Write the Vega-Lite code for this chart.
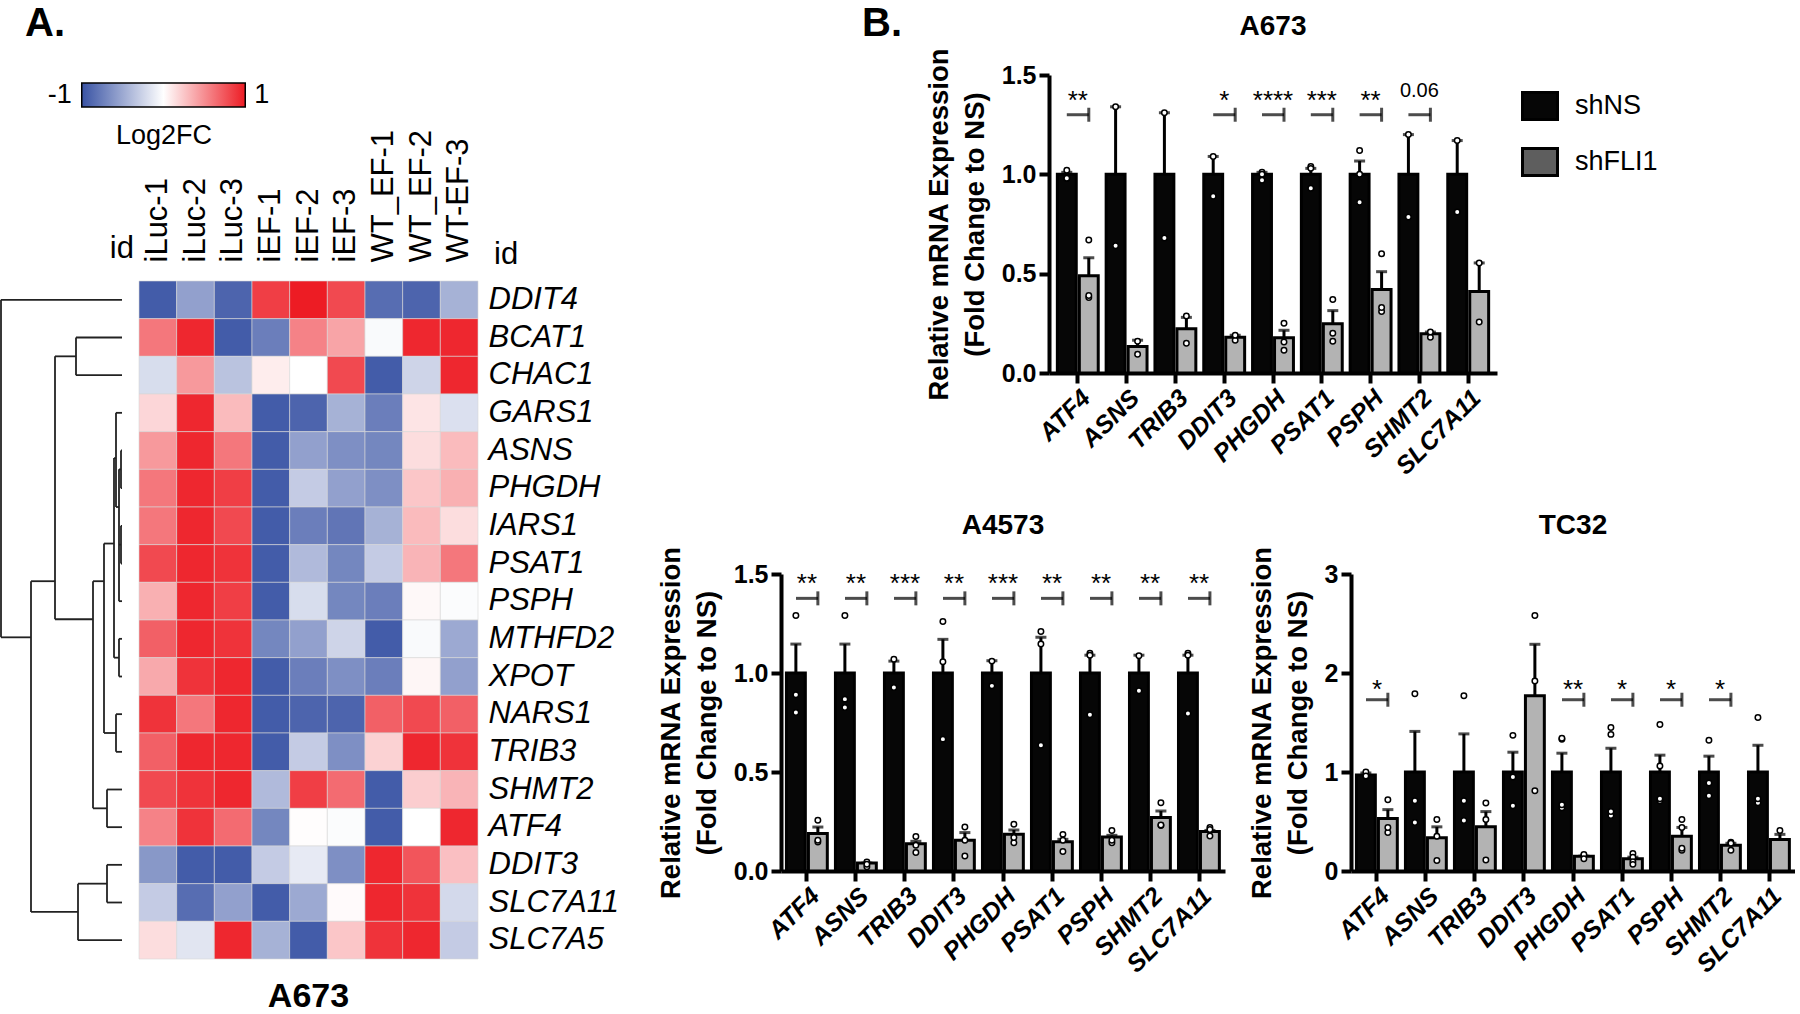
{
"$schema": "https://vega.github.io/schema/vega-lite/v6.json",
"padding": {"top": 4, "left": 0, "right": 0, "bottom": 0},
"background": "white",
"spacing": 38,
"resolve": {"scale": {"color": "independent"}, "legend": {"color": "independent"}},
"config": {
  "font": "Liberation Sans",
  "view": {"stroke": null},
  "axis": {"labelColor": "black", "titleColor": "black", "domainColor": "black", "tickColor": "black", "grid": false, "labelFont": "Liberation Sans", "titleFont": "Liberation Sans"},
  "axisX": {"labelAngle": -45, "labelFontSize": 25, "labelFontWeight": "bold", "labelFontStyle": "italic", "domainWidth": 4, "tickWidth": 4, "tickSize": 10, "labelPadding": 2},
  "axisY": {"labelFontSize": 25, "labelFontWeight": "bold", "domainWidth": 4, "tickWidth": 4, "tickSize": 10, "labelPadding": 3, "titleFontSize": 27.5, "titleFontWeight": "bold", "titleLineHeight": 36, "titlePadding": 12},
  "title": {"color": "black", "fontWeight": "bold", "font": "Liberation Sans"},
  "text": {"font": "Liberation Sans", "color": "black"}
},
"datasets": {
  "heat": [
    {"gene":"DDIT4","iLuc-1":-0.95,"iLuc-2":-0.55,"iLuc-3":-0.9,"iEF-1":0.85,"iEF-2":1.0,"iEF-3":0.8,"WT_EF-1":-0.85,"WT_EF-2":-0.9,"WT-EF-3":-0.45},
    {"gene":"BCAT1","iLuc-1":0.6,"iLuc-2":0.95,"iLuc-3":-0.95,"iEF-1":-0.75,"iEF-2":0.55,"iEF-3":0.4,"WT_EF-1":-0.03,"WT_EF-2":0.95,"WT-EF-3":0.95},
    {"gene":"CHAC1","iLuc-1":-0.2,"iLuc-2":0.45,"iLuc-3":-0.35,"iEF-1":0.08,"iEF-2":0.0,"iEF-3":0.8,"WT_EF-1":-0.95,"WT_EF-2":-0.25,"WT-EF-3":0.95},
    {"gene":"GARS1","iLuc-1":0.18,"iLuc-2":0.95,"iLuc-3":0.3,"iEF-1":-0.95,"iEF-2":-0.9,"iEF-3":-0.45,"WT_EF-1":-0.75,"WT_EF-2":0.12,"WT-EF-3":-0.18},
    {"gene":"ASNS","iLuc-1":0.45,"iLuc-2":0.95,"iLuc-3":0.6,"iEF-1":-0.95,"iEF-2":-0.55,"iEF-3":-0.65,"WT_EF-1":-0.7,"WT_EF-2":0.15,"WT-EF-3":0.3},
    {"gene":"PHGDH","iLuc-1":0.6,"iLuc-2":0.95,"iLuc-3":0.85,"iEF-1":-0.95,"iEF-2":-0.3,"iEF-3":-0.55,"WT_EF-1":-0.65,"WT_EF-2":0.25,"WT-EF-3":0.35},
    {"gene":"IARS1","iLuc-1":0.6,"iLuc-2":0.95,"iLuc-3":0.8,"iEF-1":-0.95,"iEF-2":-0.75,"iEF-3":-0.8,"WT_EF-1":-0.45,"WT_EF-2":0.3,"WT-EF-3":0.15},
    {"gene":"PSAT1","iLuc-1":0.8,"iLuc-2":0.95,"iLuc-3":0.9,"iEF-1":-0.95,"iEF-2":-0.4,"iEF-3":-0.7,"WT_EF-1":-0.3,"WT_EF-2":0.33,"WT-EF-3":0.6},
    {"gene":"PSPH","iLuc-1":0.35,"iLuc-2":0.95,"iLuc-3":0.85,"iEF-1":-0.95,"iEF-2":-0.2,"iEF-3":-0.7,"WT_EF-1":-0.75,"WT_EF-2":0.03,"WT-EF-3":-0.02},
    {"gene":"MTHFD2","iLuc-1":0.7,"iLuc-2":0.95,"iLuc-3":0.9,"iEF-1":-0.7,"iEF-2":-0.55,"iEF-3":-0.25,"WT_EF-1":-0.95,"WT_EF-2":-0.03,"WT-EF-3":-0.5},
    {"gene":"XPOT","iLuc-1":0.38,"iLuc-2":0.9,"iLuc-3":0.95,"iEF-1":-0.95,"iEF-2":-0.75,"iEF-3":-0.65,"WT_EF-1":-0.75,"WT_EF-2":0.04,"WT-EF-3":-0.55},
    {"gene":"NARS1","iLuc-1":0.9,"iLuc-2":0.6,"iLuc-3":0.95,"iEF-1":-0.95,"iEF-2":-0.9,"iEF-3":-0.9,"WT_EF-1":0.7,"WT_EF-2":0.8,"WT-EF-3":0.7},
    {"gene":"TRIB3","iLuc-1":0.7,"iLuc-2":0.95,"iLuc-3":0.95,"iEF-1":-0.95,"iEF-2":-0.3,"iEF-3":-0.65,"WT_EF-1":0.2,"WT_EF-2":0.95,"WT-EF-3":0.9},
    {"gene":"SHMT2","iLuc-1":0.8,"iLuc-2":0.9,"iLuc-3":0.95,"iEF-1":-0.4,"iEF-2":0.85,"iEF-3":0.65,"WT_EF-1":-0.95,"WT_EF-2":0.22,"WT-EF-3":0.33},
    {"gene":"ATF4","iLuc-1":0.55,"iLuc-2":0.9,"iLuc-3":0.65,"iEF-1":-0.7,"iEF-2":0.01,"iEF-3":-0.02,"WT_EF-1":-0.95,"WT_EF-2":0.0,"WT-EF-3":0.95},
    {"gene":"DDIT3","iLuc-1":-0.6,"iLuc-2":-0.95,"iLuc-3":-0.95,"iEF-1":-0.3,"iEF-2":-0.12,"iEF-3":-0.65,"WT_EF-1":0.95,"WT_EF-2":0.75,"WT-EF-3":0.28},
    {"gene":"SLC7A11","iLuc-1":-0.3,"iLuc-2":-0.85,"iLuc-3":-0.55,"iEF-1":-0.95,"iEF-2":-0.5,"iEF-3":0.02,"WT_EF-1":0.95,"WT_EF-2":0.9,"WT-EF-3":-0.22},
    {"gene":"SLC7A5","iLuc-1":0.15,"iLuc-2":-0.15,"iLuc-3":0.95,"iEF-1":-0.45,"iEF-2":-0.95,"iEF-3":0.25,"WT_EF-1":0.9,"WT_EF-2":0.95,"WT-EF-3":-0.3}
  ],
  "dendro": [
    {"h1":121,"h2":121,"r1":0,"r2":8.96},{"h1":121,"h2":0,"r1":0,"r2":0},{"h1":121,"h2":91,"r1":8.96,"r2":8.96},
    {"h1":91,"h2":91,"r1":7.47,"r2":16.25},{"h1":91,"h2":67,"r1":7.47,"r2":7.47},{"h1":91,"h2":44,"r1":16.25,"r2":16.25},
    {"h1":67,"h2":67,"r1":1.5,"r2":8.48},{"h1":67,"h2":46,"r1":1.5,"r2":1.5},{"h1":46,"h2":46,"r1":1,"r2":2},{"h1":46,"h2":0,"r1":1,"r2":1},{"h1":46,"h2":0,"r1":2,"r2":2},
    {"h1":67,"h2":29,"r1":8.48,"r2":8.48},{"h1":29,"h2":29,"r1":7.47,"r2":13.5},{"h1":29,"h2":18,"r1":7.47,"r2":7.47},{"h1":29,"h2":15,"r1":13.5,"r2":13.5},
    {"h1":15,"h2":15,"r1":13,"r2":14},{"h1":15,"h2":0,"r1":13,"r2":13},{"h1":15,"h2":0,"r1":14,"r2":14},
    {"h1":18,"h2":18,"r1":6.47,"r2":11.5},{"h1":18,"h2":8,"r1":6.47,"r2":6.47},{"h1":18,"h2":6,"r1":11.5,"r2":11.5},
    {"h1":6,"h2":6,"r1":11,"r2":12},{"h1":6,"h2":0,"r1":11,"r2":11},{"h1":6,"h2":0,"r1":12,"r2":12},
    {"h1":8,"h2":8,"r1":4.2,"r2":9.5},{"h1":8,"h2":3,"r1":9.5,"r2":9.5},{"h1":3,"h2":3,"r1":9,"r2":10},{"h1":3,"h2":0,"r1":9,"r2":9},{"h1":3,"h2":0,"r1":10,"r2":10},
    {"h1":8,"h2":6,"r1":4.2,"r2":4.2},{"h1":6,"h2":6,"r1":3,"r2":5.5},{"h1":6,"h2":0,"r1":3,"r2":3},{"h1":6,"h2":3,"r1":5.5,"r2":5.5},
    {"h1":3,"h2":3,"r1":4.5,"r2":8},{"h1":3,"h2":0,"r1":8,"r2":8},{"h1":3,"h2":1,"r1":4.5,"r2":4.5},{"h1":3,"h2":1,"r1":6.5,"r2":6.5},
    {"h1":1,"h2":1,"r1":4,"r2":5},{"h1":1,"h2":0,"r1":4,"r2":4},{"h1":1,"h2":0,"r1":5,"r2":5},{"h1":1,"h2":1,"r1":6,"r2":7},{"h1":1,"h2":0,"r1":6,"r2":6},{"h1":1,"h2":0,"r1":7,"r2":7},
    {"h1":44,"h2":44,"r1":15.5,"r2":17},{"h1":44,"h2":15,"r1":15.5,"r2":15.5},{"h1":44,"h2":0,"r1":17,"r2":17},
    {"h1":15,"h2":15,"r1":15,"r2":16},{"h1":15,"h2":0,"r1":15,"r2":15},{"h1":15,"h2":0,"r1":16,"r2":16}
  ],
  "bars": [
    {"panel":"A673","gene":"ATF4","group":"shNS","mean":1.0,"err":1.01},{"panel":"A673","gene":"ATF4","group":"shFLI1","mean":0.49,"err":0.58},
    {"panel":"A673","gene":"ASNS","group":"shNS","mean":1.0,"err":1.34},{"panel":"A673","gene":"ASNS","group":"shFLI1","mean":0.134,"err":0.165},
    {"panel":"A673","gene":"TRIB3","group":"shNS","mean":1.0,"err":1.31},{"panel":"A673","gene":"TRIB3","group":"shFLI1","mean":0.223,"err":0.28},
    {"panel":"A673","gene":"DDIT3","group":"shNS","mean":1.0,"err":1.09},{"panel":"A673","gene":"DDIT3","group":"shFLI1","mean":0.18,"err":0.19},
    {"panel":"A673","gene":"PHGDH","group":"shNS","mean":1.0,"err":1.01},{"panel":"A673","gene":"PHGDH","group":"shFLI1","mean":0.177,"err":0.215},
    {"panel":"A673","gene":"PSAT1","group":"shNS","mean":1.0,"err":1.03},{"panel":"A673","gene":"PSAT1","group":"shFLI1","mean":0.248,"err":0.314},
    {"panel":"A673","gene":"PSPH","group":"shNS","mean":1.0,"err":1.067},{"panel":"A673","gene":"PSPH","group":"shFLI1","mean":0.42,"err":0.51},
    {"panel":"A673","gene":"SHMT2","group":"shNS","mean":1.0,"err":1.2},{"panel":"A673","gene":"SHMT2","group":"shFLI1","mean":0.198,"err":0.206},
    {"panel":"A673","gene":"SLC7A11","group":"shNS","mean":1.0,"err":1.17},{"panel":"A673","gene":"SLC7A11","group":"shFLI1","mean":0.41,"err":0.554},
    {"panel":"A4573","gene":"ATF4","group":"shNS","mean":1.0,"err":1.146},{"panel":"A4573","gene":"ATF4","group":"shFLI1","mean":0.19,"err":0.222},
    {"panel":"A4573","gene":"ASNS","group":"shNS","mean":1.0,"err":1.146},{"panel":"A4573","gene":"ASNS","group":"shFLI1","mean":0.04,"err":0.04},
    {"panel":"A4573","gene":"TRIB3","group":"shNS","mean":1.0,"err":1.06},{"panel":"A4573","gene":"TRIB3","group":"shFLI1","mean":0.138,"err":0.15},
    {"panel":"A4573","gene":"DDIT3","group":"shNS","mean":1.0,"err":1.17},{"panel":"A4573","gene":"DDIT3","group":"shFLI1","mean":0.155,"err":0.194},
    {"panel":"A4573","gene":"PHGDH","group":"shNS","mean":1.0,"err":1.062},{"panel":"A4573","gene":"PHGDH","group":"shFLI1","mean":0.185,"err":0.207},
    {"panel":"A4573","gene":"PSAT1","group":"shNS","mean":1.0,"err":1.18},{"panel":"A4573","gene":"PSAT1","group":"shFLI1","mean":0.148,"err":0.16},
    {"panel":"A4573","gene":"PSPH","group":"shNS","mean":1.0,"err":1.09},{"panel":"A4573","gene":"PSPH","group":"shFLI1","mean":0.172,"err":0.18},
    {"panel":"A4573","gene":"SHMT2","group":"shNS","mean":1.0,"err":1.09},{"panel":"A4573","gene":"SHMT2","group":"shFLI1","mean":0.27,"err":0.303},
    {"panel":"A4573","gene":"SLC7A11","group":"shNS","mean":1.0,"err":1.09},{"panel":"A4573","gene":"SLC7A11","group":"shFLI1","mean":0.199,"err":0.205},
    {"panel":"TC32","gene":"ATF4","group":"shNS","mean":0.97,"err":0.99},{"panel":"TC32","gene":"ATF4","group":"shFLI1","mean":0.53,"err":0.62},
    {"panel":"TC32","gene":"ASNS","group":"shNS","mean":1.0,"err":1.41},{"panel":"TC32","gene":"ASNS","group":"shFLI1","mean":0.335,"err":0.446},
    {"panel":"TC32","gene":"TRIB3","group":"shNS","mean":1.0,"err":1.385},{"panel":"TC32","gene":"TRIB3","group":"shFLI1","mean":0.446,"err":0.6},
    {"panel":"TC32","gene":"DDIT3","group":"shNS","mean":1.0,"err":1.2},{"panel":"TC32","gene":"DDIT3","group":"shFLI1","mean":1.77,"err":2.29},
    {"panel":"TC32","gene":"PHGDH","group":"shNS","mean":1.0,"err":1.19},{"panel":"TC32","gene":"PHGDH","group":"shFLI1","mean":0.15,"err":0.15},
    {"panel":"TC32","gene":"PSAT1","group":"shNS","mean":1.0,"err":1.24},{"panel":"TC32","gene":"PSAT1","group":"shFLI1","mean":0.123,"err":0.14},
    {"panel":"TC32","gene":"PSPH","group":"shNS","mean":1.0,"err":1.17},{"panel":"TC32","gene":"PSPH","group":"shFLI1","mean":0.35,"err":0.44},
    {"panel":"TC32","gene":"SHMT2","group":"shNS","mean":1.0,"err":1.16},{"panel":"TC32","gene":"SHMT2","group":"shFLI1","mean":0.26,"err":0.28},
    {"panel":"TC32","gene":"SLC7A11","group":"shNS","mean":1.0,"err":1.27},{"panel":"TC32","gene":"SLC7A11","group":"shFLI1","mean":0.317,"err":0.37}
  ],
  "points": [
    {"panel":"A673","gene":"ATF4","group":"shNS","value":1.02},{"panel":"A673","gene":"ATF4","group":"shNS","value":0.98},{"panel":"A673","gene":"ATF4","group":"shNS","value":0.98},
    {"panel":"A673","gene":"ATF4","group":"shFLI1","value":0.67},{"panel":"A673","gene":"ATF4","group":"shFLI1","value":0.38},{"panel":"A673","gene":"ATF4","group":"shFLI1","value":0.39},
    {"panel":"A673","gene":"ASNS","group":"shNS","value":1.34},{"panel":"A673","gene":"ASNS","group":"shNS","value":0.64},
    {"panel":"A673","gene":"ASNS","group":"shFLI1","value":0.16},{"panel":"A673","gene":"ASNS","group":"shFLI1","value":0.094},
    {"panel":"A673","gene":"TRIB3","group":"shNS","value":1.31},{"panel":"A673","gene":"TRIB3","group":"shNS","value":0.68},
    {"panel":"A673","gene":"TRIB3","group":"shFLI1","value":0.287},{"panel":"A673","gene":"TRIB3","group":"shFLI1","value":0.15},
    {"panel":"A673","gene":"DDIT3","group":"shNS","value":1.09},{"panel":"A673","gene":"DDIT3","group":"shNS","value":0.89},
    {"panel":"A673","gene":"DDIT3","group":"shFLI1","value":0.165},{"panel":"A673","gene":"DDIT3","group":"shFLI1","value":0.19},
    {"panel":"A673","gene":"PHGDH","group":"shNS","value":1.01},{"panel":"A673","gene":"PHGDH","group":"shNS","value":0.97},{"panel":"A673","gene":"PHGDH","group":"shNS","value":1.0},
    {"panel":"A673","gene":"PHGDH","group":"shFLI1","value":0.25},{"panel":"A673","gene":"PHGDH","group":"shFLI1","value":0.114},{"panel":"A673","gene":"PHGDH","group":"shFLI1","value":0.156},
    {"panel":"A673","gene":"PSAT1","group":"shNS","value":1.04},{"panel":"A673","gene":"PSAT1","group":"shNS","value":1.03},{"panel":"A673","gene":"PSAT1","group":"shNS","value":0.93},
    {"panel":"A673","gene":"PSAT1","group":"shFLI1","value":0.37},{"panel":"A673","gene":"PSAT1","group":"shFLI1","value":0.16},{"panel":"A673","gene":"PSAT1","group":"shFLI1","value":0.2},
    {"panel":"A673","gene":"PSPH","group":"shNS","value":1.12},{"panel":"A673","gene":"PSPH","group":"shNS","value":1.0},{"panel":"A673","gene":"PSPH","group":"shNS","value":0.86},
    {"panel":"A673","gene":"PSPH","group":"shFLI1","value":0.6},{"panel":"A673","gene":"PSPH","group":"shFLI1","value":0.31},{"panel":"A673","gene":"PSPH","group":"shFLI1","value":0.33},
    {"panel":"A673","gene":"SHMT2","group":"shNS","value":1.2},{"panel":"A673","gene":"SHMT2","group":"shNS","value":0.785},
    {"panel":"A673","gene":"SHMT2","group":"shFLI1","value":0.18},{"panel":"A673","gene":"SHMT2","group":"shFLI1","value":0.206},
    {"panel":"A673","gene":"SLC7A11","group":"shNS","value":1.17},{"panel":"A673","gene":"SLC7A11","group":"shNS","value":0.81},
    {"panel":"A673","gene":"SLC7A11","group":"shFLI1","value":0.554},{"panel":"A673","gene":"SLC7A11","group":"shFLI1","value":0.257},
    {"panel":"A4573","gene":"ATF4","group":"shNS","value":1.29},{"panel":"A4573","gene":"ATF4","group":"shNS","value":0.89},{"panel":"A4573","gene":"ATF4","group":"shNS","value":0.8},
    {"panel":"A4573","gene":"ATF4","group":"shFLI1","value":0.256},{"panel":"A4573","gene":"ATF4","group":"shFLI1","value":0.147},{"panel":"A4573","gene":"ATF4","group":"shFLI1","value":0.155},
    {"panel":"A4573","gene":"ASNS","group":"shNS","value":1.29},{"panel":"A4573","gene":"ASNS","group":"shNS","value":0.826},{"panel":"A4573","gene":"ASNS","group":"shNS","value":0.868},
    {"panel":"A4573","gene":"ASNS","group":"shFLI1","value":0.045},{"panel":"A4573","gene":"ASNS","group":"shFLI1","value":0.022},{"panel":"A4573","gene":"ASNS","group":"shFLI1","value":0.034},
    {"panel":"A4573","gene":"TRIB3","group":"shNS","value":1.07},{"panel":"A4573","gene":"TRIB3","group":"shNS","value":0.927},
    {"panel":"A4573","gene":"TRIB3","group":"shFLI1","value":0.174},{"panel":"A4573","gene":"TRIB3","group":"shFLI1","value":0.093},{"panel":"A4573","gene":"TRIB3","group":"shFLI1","value":0.13},
    {"panel":"A4573","gene":"DDIT3","group":"shNS","value":1.26},{"panel":"A4573","gene":"DDIT3","group":"shNS","value":1.057},{"panel":"A4573","gene":"DDIT3","group":"shNS","value":0.666},
    {"panel":"A4573","gene":"DDIT3","group":"shFLI1","value":0.222},{"panel":"A4573","gene":"DDIT3","group":"shFLI1","value":0.155},{"panel":"A4573","gene":"DDIT3","group":"shFLI1","value":0.076},
    {"panel":"A4573","gene":"PHGDH","group":"shNS","value":1.06},{"panel":"A4573","gene":"PHGDH","group":"shNS","value":0.935},
    {"panel":"A4573","gene":"PHGDH","group":"shFLI1","value":0.236},{"panel":"A4573","gene":"PHGDH","group":"shFLI1","value":0.143},{"panel":"A4573","gene":"PHGDH","group":"shFLI1","value":0.169},
    {"panel":"A4573","gene":"PSAT1","group":"shNS","value":1.21},{"panel":"A4573","gene":"PSAT1","group":"shNS","value":1.146},{"panel":"A4573","gene":"PSAT1","group":"shNS","value":0.635},
    {"panel":"A4573","gene":"PSAT1","group":"shFLI1","value":0.185},{"panel":"A4573","gene":"PSAT1","group":"shFLI1","value":0.155},{"panel":"A4573","gene":"PSAT1","group":"shFLI1","value":0.098},
    {"panel":"A4573","gene":"PSPH","group":"shNS","value":1.1},{"panel":"A4573","gene":"PSPH","group":"shNS","value":1.09},{"panel":"A4573","gene":"PSPH","group":"shNS","value":0.789},
    {"panel":"A4573","gene":"PSPH","group":"shFLI1","value":0.205},{"panel":"A4573","gene":"PSPH","group":"shFLI1","value":0.143},{"panel":"A4573","gene":"PSPH","group":"shFLI1","value":0.155},
    {"panel":"A4573","gene":"SHMT2","group":"shNS","value":1.087},{"panel":"A4573","gene":"SHMT2","group":"shNS","value":0.91},
    {"panel":"A4573","gene":"SHMT2","group":"shFLI1","value":0.345},{"panel":"A4573","gene":"SHMT2","group":"shFLI1","value":0.23},{"panel":"A4573","gene":"SHMT2","group":"shFLI1","value":0.232},
    {"panel":"A4573","gene":"SLC7A11","group":"shNS","value":1.1},{"panel":"A4573","gene":"SLC7A11","group":"shNS","value":1.09},{"panel":"A4573","gene":"SLC7A11","group":"shNS","value":0.795},
    {"panel":"A4573","gene":"SLC7A11","group":"shFLI1","value":0.22},{"panel":"A4573","gene":"SLC7A11","group":"shFLI1","value":0.21},{"panel":"A4573","gene":"SLC7A11","group":"shFLI1","value":0.177},
    {"panel":"TC32","gene":"ATF4","group":"shNS","value":1.0},{"panel":"TC32","gene":"ATF4","group":"shNS","value":0.955},{"panel":"TC32","gene":"ATF4","group":"shNS","value":0.96},
    {"panel":"TC32","gene":"ATF4","group":"shFLI1","value":0.72},{"panel":"TC32","gene":"ATF4","group":"shFLI1","value":0.39},{"panel":"TC32","gene":"ATF4","group":"shFLI1","value":0.44},
    {"panel":"TC32","gene":"ASNS","group":"shNS","value":1.79},{"panel":"TC32","gene":"ASNS","group":"shNS","value":0.71},{"panel":"TC32","gene":"ASNS","group":"shNS","value":0.49},
    {"panel":"TC32","gene":"ASNS","group":"shFLI1","value":0.52},{"panel":"TC32","gene":"ASNS","group":"shFLI1","value":0.35},{"panel":"TC32","gene":"ASNS","group":"shFLI1","value":0.107},
    {"panel":"TC32","gene":"TRIB3","group":"shNS","value":1.77},{"panel":"TC32","gene":"TRIB3","group":"shNS","value":0.71},{"panel":"TC32","gene":"TRIB3","group":"shNS","value":0.51},
    {"panel":"TC32","gene":"TRIB3","group":"shFLI1","value":0.687},{"panel":"TC32","gene":"TRIB3","group":"shFLI1","value":0.52},{"panel":"TC32","gene":"TRIB3","group":"shFLI1","value":0.11},
    {"panel":"TC32","gene":"DDIT3","group":"shNS","value":1.37},{"panel":"TC32","gene":"DDIT3","group":"shNS","value":0.95},{"panel":"TC32","gene":"DDIT3","group":"shNS","value":0.66},
    {"panel":"TC32","gene":"DDIT3","group":"shFLI1","value":2.58},{"panel":"TC32","gene":"DDIT3","group":"shFLI1","value":1.92},{"panel":"TC32","gene":"DDIT3","group":"shFLI1","value":0.81},
    {"panel":"TC32","gene":"PHGDH","group":"shNS","value":1.33},{"panel":"TC32","gene":"PHGDH","group":"shNS","value":1.34},{"panel":"TC32","gene":"PHGDH","group":"shNS","value":0.64},{"panel":"TC32","gene":"PHGDH","group":"shNS","value":0.67},
    {"panel":"TC32","gene":"PHGDH","group":"shFLI1","value":0.157},{"panel":"TC32","gene":"PHGDH","group":"shFLI1","value":0.167},{"panel":"TC32","gene":"PHGDH","group":"shFLI1","value":0.123},
    {"panel":"TC32","gene":"PSAT1","group":"shNS","value":1.45},{"panel":"TC32","gene":"PSAT1","group":"shNS","value":1.38},{"panel":"TC32","gene":"PSAT1","group":"shNS","value":0.56},{"panel":"TC32","gene":"PSAT1","group":"shNS","value":0.6},
    {"panel":"TC32","gene":"PSAT1","group":"shFLI1","value":0.177},{"panel":"TC32","gene":"PSAT1","group":"shFLI1","value":0.14},{"panel":"TC32","gene":"PSAT1","group":"shFLI1","value":0.093},{"panel":"TC32","gene":"PSAT1","group":"shFLI1","value":0.067},
    {"panel":"TC32","gene":"PSPH","group":"shNS","value":1.48},{"panel":"TC32","gene":"PSPH","group":"shNS","value":1.06},{"panel":"TC32","gene":"PSPH","group":"shNS","value":0.71},{"panel":"TC32","gene":"PSPH","group":"shNS","value":0.73},
    {"panel":"TC32","gene":"PSPH","group":"shFLI1","value":0.52},{"panel":"TC32","gene":"PSPH","group":"shFLI1","value":0.44},{"panel":"TC32","gene":"PSPH","group":"shFLI1","value":0.21},{"panel":"TC32","gene":"PSPH","group":"shFLI1","value":0.23},
    {"panel":"TC32","gene":"SHMT2","group":"shNS","value":1.32},{"panel":"TC32","gene":"SHMT2","group":"shNS","value":0.89},{"panel":"TC32","gene":"SHMT2","group":"shNS","value":0.76},
    {"panel":"TC32","gene":"SHMT2","group":"shFLI1","value":0.29},{"panel":"TC32","gene":"SHMT2","group":"shFLI1","value":0.28},{"panel":"TC32","gene":"SHMT2","group":"shFLI1","value":0.21},
    {"panel":"TC32","gene":"SLC7A11","group":"shNS","value":1.55},{"panel":"TC32","gene":"SLC7A11","group":"shNS","value":0.69},{"panel":"TC32","gene":"SLC7A11","group":"shNS","value":0.73},
    {"panel":"TC32","gene":"SLC7A11","group":"shFLI1","value":0.41}
  ],
  "sig": [
    {"panel":"A673","gene":"ATF4","label":"**","bracket":1.3},{"panel":"A673","gene":"DDIT3","label":"*","bracket":1.3},{"panel":"A673","gene":"PHGDH","label":"****","bracket":1.3},
    {"panel":"A673","gene":"PSAT1","label":"***","bracket":1.3},{"panel":"A673","gene":"PSPH","label":"**","bracket":1.3},{"panel":"A673","gene":"SHMT2","label":"0.06","bracket":1.3},
    {"panel":"A4573","gene":"ATF4","label":"**","bracket":1.377},{"panel":"A4573","gene":"ASNS","label":"**","bracket":1.377},{"panel":"A4573","gene":"TRIB3","label":"***","bracket":1.377},
    {"panel":"A4573","gene":"DDIT3","label":"**","bracket":1.377},{"panel":"A4573","gene":"PHGDH","label":"***","bracket":1.377},{"panel":"A4573","gene":"PSAT1","label":"**","bracket":1.377},
    {"panel":"A4573","gene":"PSPH","label":"**","bracket":1.377},{"panel":"A4573","gene":"SHMT2","label":"**","bracket":1.377},{"panel":"A4573","gene":"SLC7A11","label":"**","bracket":1.377},
    {"panel":"TC32","gene":"ATF4","label":"*","bracket":1.73},{"panel":"TC32","gene":"PHGDH","label":"**","bracket":1.73},{"panel":"TC32","gene":"PSAT1","label":"*","bracket":1.73},
    {"panel":"TC32","gene":"PSPH","label":"*","bracket":1.73},{"panel":"TC32","gene":"SHMT2","label":"*","bracket":1.73}
  ]
},
"hconcat": [
  {
    "vconcat": [
      {
        "vconcat": [
          {"width": 327, "height": 1, "data": {"values": []}, "mark": "point", "encoding": {},
           "title": {"text": "A.", "anchor": "start", "dx": 25, "fontSize": 40, "offset": 31}},
          {"width": 327, "height": 24,
           "layer": [
             {"data": {"values": [{"lo": -1, "hi": 1}]},
              "mark": {"type": "rect", "stroke": "black", "strokeWidth": 1.5,
                       "fill": {"gradient": "linear", "x1": 0, "y1": 0, "x2": 1, "y2": 0,
                                "stops": [{"offset": 0, "color": "#3953a4"}, {"offset": 0.5, "color": "#ffffff"}, {"offset": 1, "color": "#ed1c24"}]}},
              "encoding": {"x": {"field": "lo", "type": "quantitative", "scale": {"domain": [-1.869, 1.869]},
                                 "axis": {"title": "Log2FC", "labels": false, "ticks": false, "domain": false, "titleFontSize": 27, "titleFontWeight": "normal", "titlePadding": 15}},
                           "x2": {"field": "hi"}}},
             {"data": {"values": [{"lo": -1, "t": "-1"}]},
              "mark": {"type": "text", "align": "right", "dx": -10, "fontSize": 27, "baseline": "middle"},
              "encoding": {"x": {"field": "lo", "type": "quantitative"}, "text": {"field": "t"}}},
             {"data": {"values": [{"lo": 1, "t": "1"}]},
              "mark": {"type": "text", "align": "left", "dx": 9, "fontSize": 27, "baseline": "middle"},
              "encoding": {"x": {"field": "lo", "type": "quantitative"}, "text": {"field": "t"}}}
           ]}
        ],
        "spacing": 5
      },
      {
        "hconcat": [
          {"width": 122, "height": 678,
           "data": {"name": "dendro"},
           "mark": {"type": "rule", "strokeWidth": 1.8, "color": "#222222"},
           "encoding": {
             "x": {"field": "h1", "type": "quantitative", "scale": {"domain": [0, 122], "reverse": true}, "axis": null},
             "x2": {"field": "h2"},
             "y": {"field": "r1", "type": "quantitative", "scale": {"domain": [-0.5, 17.5], "reverse": true}, "axis": null},
             "y2": {"field": "r2"}
           }},
          {"width": 339, "height": 678,
           "title": {"text": "A673", "orient": "bottom", "fontSize": 34, "offset": 21},
           "encoding": {
             "x": {"field": "sample", "type": "nominal", "sort": ["iLuc-1","iLuc-2","iLuc-3","iEF-1","iEF-2","iEF-3","WT_EF-1","WT_EF-2","WT-EF-3"], "scale": {"padding": 0},
                   "axis": {"orient": "top", "title": null, "labelAngle": -90, "labelFontSize": 31, "labelFontWeight": "normal", "labelFontStyle": "normal", "domain": false, "ticks": false, "labelPadding": 19}},
             "y": {"field": "gene", "type": "nominal", "sort": ["DDIT4","BCAT1","CHAC1","GARS1","ASNS","PHGDH","IARS1","PSAT1","PSPH","MTHFD2","XPOT","NARS1","TRIB3","SHMT2","ATF4","DDIT3","SLC7A11","SLC7A5"], "scale": {"padding": 0},
                   "axis": {"orient": "right", "title": null, "labelFontSize": 31, "labelFontWeight": "normal", "labelFontStyle": "italic", "domain": false, "ticks": false, "labelPadding": 10}}
           },
           "layer": [
             {"data": {"name": "heat"},
              "transform": [{"fold": ["iLuc-1","iLuc-2","iLuc-3","iEF-1","iEF-2","iEF-3","WT_EF-1","WT_EF-2","WT-EF-3"], "as": ["sample", "v"]}],
              "mark": {"type": "rect", "stroke": "#d6d6d6", "strokeWidth": 0.6},
              "encoding": {
                "color": {"field": "v", "type": "quantitative", "scale": {"domain": [-1, 0, 1], "range": ["#3953a4", "#ffffff", "#ed1c24"], "interpolate": "rgb"}, "legend": null}
              }},
             {"data": {"values": [{"sample": "iLuc-1", "gene": "DDIT4", "t": "id"}]},
              "mark": {"type": "text", "fontSize": 31, "dx": -36, "dy": -42, "baseline": "alphabetic"},
              "encoding": {"text": {"field": "t"}}},
             {"data": {"values": [{"sample": "WT-EF-3", "gene": "DDIT4", "t": "id"}]},
              "mark": {"type": "text", "fontSize": 31, "dx": 47, "dy": -36, "baseline": "alphabetic"},
              "encoding": {"text": {"field": "t"}}}
           ]}
        ],
        "spacing": -14
      }
    ],
    "spacing": -19
  },
  {
    "resolve": {"scale": {"color": "independent"}, "legend": {"color": "independent"}},
    "vconcat": [
      {
        "resolve": {"scale": {"color": "independent"}, "legend": {"color": "independent"}},
        "hconcat": [
          {"width": 121, "height": 1, "data": {"values": []}, "mark": "point", "encoding": {},
           "title": {"text": "B.", "anchor": "end", "fontSize": 40, "offset": 31}},
          {"width": 448, "height": 298,
           "title": {"text": "A673", "fontSize": 28, "offset": 6},
           "encoding": {"x": {"field": "gene", "type": "nominal", "sort": ["ATF4","ASNS","TRIB3","DDIT3","PHGDH","PSAT1","PSPH","SHMT2","SLC7A11"], "scale": {"paddingInner": 0, "paddingOuter": 0.09}, "axis": {"title": null}}},
           "layer": [
             {"data": {"name": "bars"}, "transform": [{"filter": "datum.panel === 'A673'"}],
              "mark": {"type": "rule", "strokeWidth": 3, "color": "black"},
              "encoding": {"xOffset": {"field": "group", "sort": ["shNS","shFLI1"], "scale": {"paddingInner": 0.14, "paddingOuter": 0.18}},
                           "y": {"field": "mean", "type": "quantitative", "scale": {"domain": [0, 1.5]}}, "y2": {"field": "err"}}},
             {"data": {"name": "bars"}, "transform": [{"filter": "datum.panel === 'A673'"}],
              "mark": {"type": "tick", "orient": "horizontal", "size": 11, "thickness": 3, "color": "black"},
              "encoding": {"xOffset": {"field": "group", "sort": ["shNS","shFLI1"]},
                           "y": {"field": "err", "type": "quantitative", "scale": {"domain": [0, 1.5]}}}},
             {"data": {"name": "bars"}, "transform": [{"filter": "datum.panel === 'A673'"}],
              "mark": {"type": "bar", "stroke": "black", "strokeWidth": 3},
              "encoding": {"xOffset": {"field": "group", "sort": ["shNS","shFLI1"]},
                           "y": {"field": "mean", "type": "quantitative", "scale": {"domain": [0, 1.5]}, "title": ["Relative mRNA Expression", "(Fold Change to NS)"], "axis": {"values": [0, 0.5, 1, 1.5], "format": ".1f"}},
                           "fill": {"field": "group", "type": "nominal", "scale": {"domain": ["shNS","shFLI1"], "range": ["#060606", "#b3b3b3"]}, "legend": null}}},
             {"data": {"name": "points"}, "transform": [{"filter": "datum.panel === 'A673'"}],
              "mark": {"type": "point", "shape": "circle", "filled": true, "fill": "white", "stroke": "black", "strokeWidth": 1.5, "size": 30, "opacity": 1},
              "encoding": {"xOffset": {"field": "group", "sort": ["shNS","shFLI1"]},
                           "y": {"field": "value", "type": "quantitative", "scale": {"domain": [0, 1.5]}}}},
             {"data": {"name": "sig"}, "transform": [{"filter": "datum.panel === 'A673'"}],
              "mark": {"type": "tick", "orient": "horizontal", "size": 22, "thickness": 3, "color": "black"},
              "encoding": {"y": {"field": "bracket", "type": "quantitative", "scale": {"domain": [0, 1.5]}}}},
             {"data": {"name": "sig"}, "transform": [{"filter": "datum.panel === 'A673'"}],
              "mark": {"type": "tick", "orient": "vertical", "size": 14, "thickness": 3, "color": "black"},
              "encoding": {"xOffset": {"datum": "shFLI1"},
                           "y": {"field": "bracket", "type": "quantitative", "scale": {"domain": [0, 1.5]}}}},
             {"data": {"name": "sig"}, "transform": [{"filter": "datum.panel === 'A673' && datum.label !== '0.06'"}],
              "mark": {"type": "text", "fontSize": 26, "dy": -6, "baseline": "alphabetic"},
              "encoding": {"y": {"field": "bracket", "type": "quantitative", "scale": {"domain": [0, 1.5]}}, "text": {"field": "label"}}},
             {"data": {"name": "sig"}, "transform": [{"filter": "datum.panel === 'A673' && datum.label === '0.06'"}],
              "mark": {"type": "text", "fontSize": 20, "dy": -18, "baseline": "alphabetic"},
              "encoding": {"y": {"field": "bracket", "type": "quantitative", "scale": {"domain": [0, 1.5]}}, "text": {"field": "label"}}},
             {"data": {"name": "bars"}, "transform": [{"filter": "datum.panel === 'none'"}],
              "mark": {"type": "point", "filled": true},
              "encoding": {"color": {"field": "group", "type": "nominal", "scale": {"domain": ["shNS","shFLI1"], "range": ["#060606", "#5e5e5e"]},
                                     "legend": {"title": null, "orient": "right", "offset": 12, "padding": 12, "symbolType": "M-1,-0.77H1V0.77H-1Z", "symbolSize": 1225, "symbolStrokeColor": "black", "symbolStrokeWidth": 3, "symbolOpacity": 1, "labelFontSize": 27, "labelFont": "Liberation Sans", "labelColor": "black", "rowPadding": 16, "labelOffset": 16}}}}
           ]}
        ],
        "spacing": 23
      },
      {
        "hconcat": [
          {"width": 444, "height": 297,
           "title": {"text": "A4573", "fontSize": 28, "offset": 6},
           "encoding": {"x": {"field": "gene", "type": "nominal", "sort": ["ATF4","ASNS","TRIB3","DDIT3","PHGDH","PSAT1","PSPH","SHMT2","SLC7A11"], "scale": {"paddingInner": 0, "paddingOuter": 0.03}, "axis": {"title": null}}},
           "layer": [
             {"data": {"name": "bars"}, "transform": [{"filter": "datum.panel === 'A4573'"}],
              "mark": {"type": "rule", "strokeWidth": 3, "color": "black"},
              "encoding": {"xOffset": {"field": "group", "sort": ["shNS","shFLI1"], "scale": {"paddingInner": 0.14, "paddingOuter": 0.18}},
                           "y": {"field": "mean", "type": "quantitative", "scale": {"domain": [0, 1.5]}}, "y2": {"field": "err"}}},
             {"data": {"name": "bars"}, "transform": [{"filter": "datum.panel === 'A4573'"}],
              "mark": {"type": "tick", "orient": "horizontal", "size": 11, "thickness": 3, "color": "black"},
              "encoding": {"xOffset": {"field": "group", "sort": ["shNS","shFLI1"]},
                           "y": {"field": "err", "type": "quantitative", "scale": {"domain": [0, 1.5]}}}},
             {"data": {"name": "bars"}, "transform": [{"filter": "datum.panel === 'A4573'"}],
              "mark": {"type": "bar", "stroke": "black", "strokeWidth": 3},
              "encoding": {"xOffset": {"field": "group", "sort": ["shNS","shFLI1"]},
                           "y": {"field": "mean", "type": "quantitative", "scale": {"domain": [0, 1.5]}, "title": ["Relative mRNA Expression", "(Fold Change to NS)"], "axis": {"values": [0, 0.5, 1, 1.5], "format": ".1f"}},
                           "fill": {"field": "group", "type": "nominal", "scale": {"domain": ["shNS","shFLI1"], "range": ["#060606", "#b3b3b3"]}, "legend": null}}},
             {"data": {"name": "points"}, "transform": [{"filter": "datum.panel === 'A4573'"}],
              "mark": {"type": "point", "shape": "circle", "filled": true, "fill": "white", "stroke": "black", "strokeWidth": 1.5, "size": 30, "opacity": 1},
              "encoding": {"xOffset": {"field": "group", "sort": ["shNS","shFLI1"]},
                           "y": {"field": "value", "type": "quantitative", "scale": {"domain": [0, 1.5]}}}},
             {"data": {"name": "sig"}, "transform": [{"filter": "datum.panel === 'A4573'"}],
              "mark": {"type": "tick", "orient": "horizontal", "size": 22, "thickness": 3, "color": "black"},
              "encoding": {"y": {"field": "bracket", "type": "quantitative", "scale": {"domain": [0, 1.5]}}}},
             {"data": {"name": "sig"}, "transform": [{"filter": "datum.panel === 'A4573'"}],
              "mark": {"type": "tick", "orient": "vertical", "size": 14, "thickness": 3, "color": "black"},
              "encoding": {"xOffset": {"datum": "shFLI1"},
                           "y": {"field": "bracket", "type": "quantitative", "scale": {"domain": [0, 1.5]}}}},
             {"data": {"name": "sig"}, "transform": [{"filter": "datum.panel === 'A4573'"}],
              "mark": {"type": "text", "fontSize": 26, "dy": -6, "baseline": "alphabetic"},
              "encoding": {"y": {"field": "bracket", "type": "quantitative", "scale": {"domain": [0, 1.5]}}, "text": {"field": "label"}}}
           ]},
          {"width": 444, "height": 297,
           "title": {"text": "TC32", "fontSize": 28, "offset": 6},
           "encoding": {"x": {"field": "gene", "type": "nominal", "sort": ["ATF4","ASNS","TRIB3","DDIT3","PHGDH","PSAT1","PSPH","SHMT2","SLC7A11"], "scale": {"paddingInner": 0, "paddingOuter": 0.03}, "axis": {"title": null}}},
           "layer": [
             {"data": {"name": "bars"}, "transform": [{"filter": "datum.panel === 'TC32'"}],
              "mark": {"type": "rule", "strokeWidth": 3, "color": "black"},
              "encoding": {"xOffset": {"field": "group", "sort": ["shNS","shFLI1"], "scale": {"paddingInner": 0.14, "paddingOuter": 0.18}},
                           "y": {"field": "mean", "type": "quantitative", "scale": {"domain": [0, 3]}}, "y2": {"field": "err"}}},
             {"data": {"name": "bars"}, "transform": [{"filter": "datum.panel === 'TC32'"}],
              "mark": {"type": "tick", "orient": "horizontal", "size": 11, "thickness": 3, "color": "black"},
              "encoding": {"xOffset": {"field": "group", "sort": ["shNS","shFLI1"]},
                           "y": {"field": "err", "type": "quantitative", "scale": {"domain": [0, 3]}}}},
             {"data": {"name": "bars"}, "transform": [{"filter": "datum.panel === 'TC32'"}],
              "mark": {"type": "bar", "stroke": "black", "strokeWidth": 3},
              "encoding": {"xOffset": {"field": "group", "sort": ["shNS","shFLI1"]},
                           "y": {"field": "mean", "type": "quantitative", "scale": {"domain": [0, 3]}, "title": ["Relative mRNA Expression", "(Fold Change to NS)"], "axis": {"values": [0, 1, 2, 3], "format": "d"}},
                           "fill": {"field": "group", "type": "nominal", "scale": {"domain": ["shNS","shFLI1"], "range": ["#060606", "#b3b3b3"]}, "legend": null}}},
             {"data": {"name": "points"}, "transform": [{"filter": "datum.panel === 'TC32'"}],
              "mark": {"type": "point", "shape": "circle", "filled": true, "fill": "white", "stroke": "black", "strokeWidth": 1.5, "size": 30, "opacity": 1},
              "encoding": {"xOffset": {"field": "group", "sort": ["shNS","shFLI1"]},
                           "y": {"field": "value", "type": "quantitative", "scale": {"domain": [0, 3]}}}},
             {"data": {"name": "sig"}, "transform": [{"filter": "datum.panel === 'TC32'"}],
              "mark": {"type": "tick", "orient": "horizontal", "size": 22, "thickness": 3, "color": "black"},
              "encoding": {"y": {"field": "bracket", "type": "quantitative", "scale": {"domain": [0, 3]}}}},
             {"data": {"name": "sig"}, "transform": [{"filter": "datum.panel === 'TC32'"}],
              "mark": {"type": "tick", "orient": "vertical", "size": 14, "thickness": 3, "color": "black"},
              "encoding": {"xOffset": {"datum": "shFLI1"},
                           "y": {"field": "bracket", "type": "quantitative", "scale": {"domain": [0, 3]}}}},
             {"data": {"name": "sig"}, "transform": [{"filter": "datum.panel === 'TC32'"}],
              "mark": {"type": "text", "fontSize": 26, "dy": -2, "baseline": "alphabetic"},
              "encoding": {"y": {"field": "bracket", "type": "quantitative", "scale": {"domain": [0, 3]}}, "text": {"field": "label"}}}
           ]}
        ],
        "spacing": 23
      }
    ],
    "spacing": 32
  }
]
}
